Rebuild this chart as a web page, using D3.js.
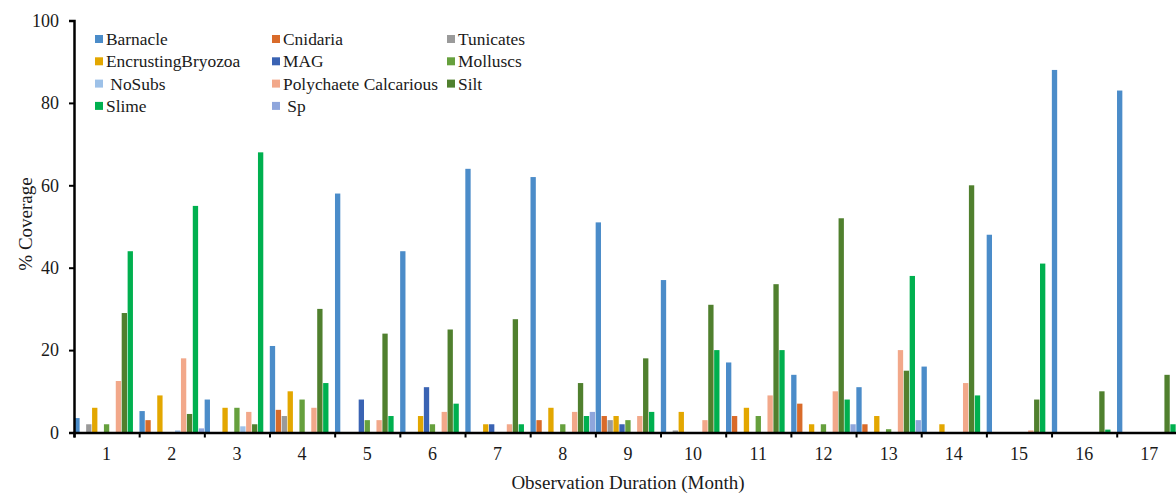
<!DOCTYPE html>
<html>
<head>
<meta charset="utf-8">
<script src="https://cdn.jsdelivr.net/npm/d3@7"></script>
<style>
  body { margin: 0; background: #fff; }
  text { font-family: "Liberation Serif", "Times New Roman", serif; fill: #1a1a1a; }
</style>
</head>
<body>
<div id="chart"></div>
<script>
// months on the x axis
var months = ["1","2","3","4","5","6","7","8","9","10","11","12","13","14","15","16","17"];

var seriesNames = ["Barnacle", "Cnidaria", "Tunicates", "EncrustingBryozoa", "MAG", "Molluscs",
                   " NoSubs", "Polychaete Calcarious", "Silt", "Slime", " Sp"];

// one array per series, one value per month (% coverage)
var barnacle   = [3.5, 5.2, 8, 21, 58, 44, 64, 62, 51, 37, 17, 14, 11, 16, 48, 88, 83];
var cnidaria   = [0, 3, 0, 5.5, 0, 0, 0, 3, 4, 0, 4, 7, 2, 0, 0, 0, 0];
var tunicates  = [2, 0, 0, 4, 0, 0, 0, 0, 3, 0.5, 0, 0, 0, 0, 0, 0, 0];
var bryozoa    = [6, 9, 6, 10, 0, 4, 2, 6, 4, 5, 6, 2, 4, 2, 0, 0, 0];
var mag        = [0, 0, 0, 0, 8, 11, 2, 0, 2, 0, 0, 0, 0, 0, 0, 0, 0];
var molluscs   = [2, 0, 6, 8, 3, 2, 0, 2, 3, 0, 4, 2, 0.8, 0, 0, 0, 0];
var noSubs     = [0, 0.5, 1.5, 0, 0, 0, 0, 0, 0, 0, 0, 0, 0, 0, 0, 0, 0];
var polychaete = [12.5, 18, 5, 6, 3, 5, 2, 5, 4, 3, 9, 10, 20, 12, 0.5, 0, 0];
var silt       = [29, 4.5, 2, 30, 24, 25, 27.5, 12, 18, 31, 36, 52, 15, 60, 8, 10, 14];
var slime      = [44, 55, 68, 12, 4, 7, 2, 4, 5, 20, 20, 8, 38, 9, 41, 0.7, 2];
var sp         = [0, 1, 0, 0, 0, 0, 0, 5, 0, 0, 0, 2, 3, 0, 0, 0, 0];

var yTicks = [0, 20, 40, 60, 80, 100];

var seriesValues = [barnacle, cnidaria, tunicates, bryozoa, mag, molluscs,
                    noSubs, polychaete, silt, slime, sp];

var colors = ["#4b8cc9", "#d96b2a", "#9a9a9a", "#e3a700", "#3a63b3", "#66a03d",
              "#9dc1e8", "#f2a88a", "#50802e", "#00b04f", "#8fa6dc"];

var W = 1176, H = 493;
var margin = {top: 20.5, left: 74, bottom: 60.5};
var plotW = 17 * 65.17;

var svg = d3.select("#chart")
  .append("svg")
    .attr("width", W)
    .attr("height", H);

var x = d3.scaleBand()
  .domain(months)
  .range([margin.left, margin.left + plotW])
  .padding(0);

var xSeries = d3.scaleBand()
  .domain(d3.range(seriesNames.length))
  .range([0, x.bandwidth()])
  .padding(0);

var y = d3.scaleLinear()
  .domain([0, 100])
  .range([H - margin.bottom, margin.top]);

// bars
var groups = svg.append("g").selectAll("g")
  .data(months)
  .enter()
  .append("g")
    .attr("transform", function(d) { return "translate(" + x(d) + ",0)"; });

groups.selectAll("rect")
  .data(function(d, i) {
    return seriesValues.map(function(vals, s) { return {s: s, v: vals[i]}; });
  })
  .enter()
  .append("rect")
    .attr("x", function(d) { return xSeries(d.s) + 0.3; })
    .attr("width", xSeries.bandwidth() - 0.6)
    .attr("y", function(d) { return y(d.v); })
    .attr("height", function(d) { return y(0) - y(d.v); })
    .attr("fill", function(d) { return colors[d.s]; });

// y axis
var yAxis = svg.append("g")
  .attr("transform", "translate(" + margin.left + ",0)")
  .call(d3.axisLeft(y).tickValues(yTicks).tickSize(5).tickPadding(10));
yAxis.select(".domain").attr("stroke", "#000").attr("stroke-width", 2.5);
yAxis.selectAll(".tick line").attr("stroke", "#000").attr("stroke-width", 2);
yAxis.selectAll(".tick text")
  .style("font-family", "Liberation Serif, serif")
  .style("font-size", "18px")
  .attr("fill", "#1a1a1a");

// x axis: ticks between months, labels centred on each month
var xEdge = d3.scaleLinear().domain([0, 17]).range([margin.left, margin.left + plotW]);
var xAxis = svg.append("g")
  .attr("transform", "translate(0," + y(0) + ")")
  .call(d3.axisBottom(xEdge).ticks(17).tickSize(5).tickFormat(""));
xAxis.select(".domain").attr("stroke", "#000").attr("stroke-width", 2.5);
xAxis.selectAll(".tick line").attr("stroke", "#000").attr("stroke-width", 2);

var xLabels = svg.append("g")
  .attr("transform", "translate(0," + y(0) + ")")
  .call(d3.axisBottom(x).tickSize(0).tickPadding(15));
xLabels.select(".domain").remove();
xLabels.selectAll(".tick text")
  .style("font-family", "Liberation Serif, serif")
  .style("font-size", "18px")
  .attr("fill", "#1a1a1a");

// axis titles
svg.append("text")
  .attr("x", 628)
  .attr("y", 489)
  .attr("text-anchor", "middle")
  .style("font-size", "19px")
  .text("Observation Duration (Month)");

svg.append("text")
  .attr("transform", "translate(32,224) rotate(-90)")
  .attr("text-anchor", "middle")
  .style("font-size", "19px")
  .text("% Coverage");

// legend, three columns
var legendCols = [95, 272, 447];
var legend = svg.append("g").selectAll("g")
  .data(seriesNames)
  .enter()
  .append("g")
    .attr("transform", function(d, i) {
      return "translate(" + legendCols[i % 3] + "," + (39 + Math.floor(i / 3) * 22.3) + ")";
    });

legend.append("rect")
  .attr("x", 0)
  .attr("y", -4)
  .attr("width", 8)
  .attr("height", 8)
  .attr("fill", function(d, i) { return colors[i]; });

legend.append("text")
  .attr("x", 11)
  .attr("y", 6)
  .style("font-size", "17.4px")
  .style("white-space", "pre")
  .text(function(d) { return d; });
</script>
</body>
</html>
